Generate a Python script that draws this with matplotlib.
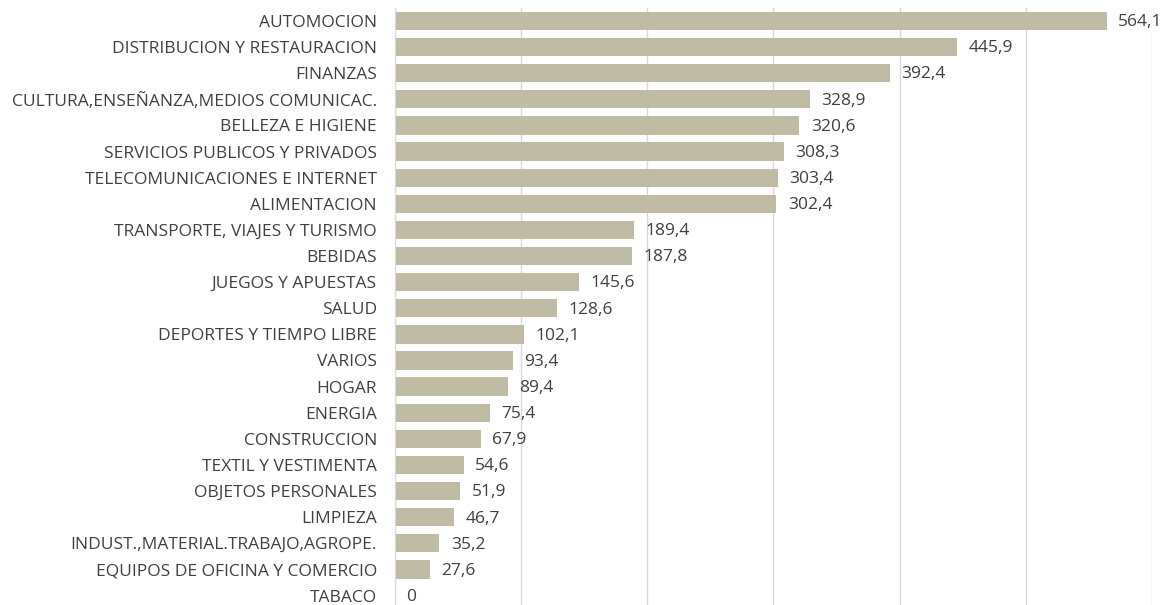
import numpy as np
import matplotlib.pyplot as plt

categorias = ["AUTOMOCION", "DISTRIBUCION Y RESTAURACION", "FINANZAS",
              "CULTURA,ENSEÑANZA,MEDIOS COMUNICAC.", "BELLEZA E HIGIENE",
              "SERVICIOS PUBLICOS Y PRIVADOS", "TELECOMUNICACIONES E INTERNET",
              "ALIMENTACION", "TRANSPORTE, VIAJES Y TURISMO", "BEBIDAS",
              "JUEGOS Y APUESTAS", "SALUD", "DEPORTES Y TIEMPO LIBRE", "VARIOS",
              "HOGAR", "ENERGIA", "CONSTRUCCION", "TEXTIL Y VESTIMENTA",
              "OBJETOS PERSONALES", "LIMPIEZA", "INDUST.,MATERIAL.TRABAJO,AGROPE.",
              "EQUIPOS DE OFICINA Y COMERCIO", "TABACO"]
valores = [564.1, 445.9, 392.4, 328.9, 320.6, 308.3, 303.4, 302.4, 189.4, 187.8,
           145.6, 128.6, 102.1, 93.4, 89.4, 75.4, 67.9, 54.6, 51.9, 46.7, 35.2,
           27.6, 0]

plt.rcParams['font.family'] = ['Open Sans', 'DejaVu Sans']
texto = '#404040'

fig = plt.figure(figsize=(11.67, 6.05), dpi=100)
ax = fig.add_axes([0.3385, -0.006, 0.6485, 0.993])

y = np.arange(len(categorias))
ax.barh(y, valores, height=0.7, color='#BFBBA4', zorder=2)
for yi, v in zip(y, valores):
    ax.text(v + 9, yi + 0.05, f"{v:.1f}".replace('.', ',') if v else "0",
            va='center', ha='left', fontsize=12.5, color=texto)

ax.set_xlim(0, 600)
ax.set_ylim(len(categorias) - 0.5, -0.5)
ax.set_xticks(np.arange(0, 601, 100))
ax.xaxis.grid(True, color='#D9D9D9', linewidth=1, zorder=0)
ax.tick_params(axis='x', length=0, labelbottom=False)
ax.set_yticks(y)
ax.set_yticklabels(categorias, fontsize=12.5, color=texto)
ax.tick_params(axis='y', length=0, pad=13)
for s in ['top', 'right', 'bottom']:
    ax.spines[s].set_visible(False)
ax.spines['left'].set_color('#D9D9D9')

fig.savefig('out.png', dpi=100)
